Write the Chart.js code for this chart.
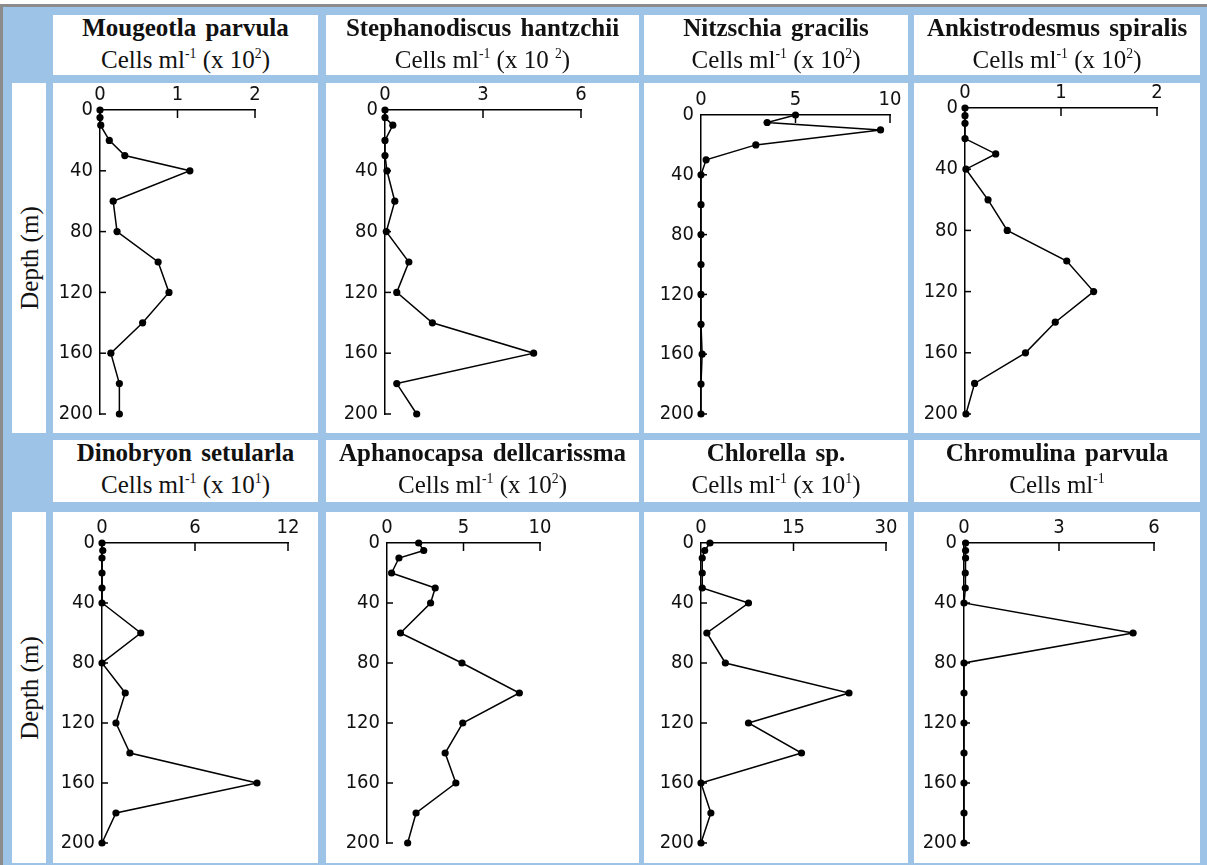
<!DOCTYPE html>
<html>
<head>
<meta charset="utf-8">
<script src="https://cdn.jsdelivr.net/npm/chart.js@4.4.1/dist/chart.umd.min.js"></script>
<style>
html,body{margin:0;padding:0;background:#fff;width:1207px;height:865px;overflow:hidden;position:relative;}
#frame{position:absolute;left:0;top:4px;width:1204px;height:858px;background:#9dc3e6;border-top:3px solid #8c8c8c;border-left:3px solid #8c8c8c;}
.cell{position:absolute;background:#fff;}
.hd{font-family:"Liberation Serif","Times New Roman",serif;color:#111;}
.t1,.t2{position:absolute;left:0;right:0;text-align:center;white-space:nowrap;font-size:25px;line-height:25px;}
.t1{font-weight:bold;top:0;word-spacing:3px;}
.t2{top:32px;}
sup{font-size:0.55em;vertical-align:0.72em;line-height:0;}
.depth span{position:absolute;left:50%;top:50%;transform:translate(-50%,-50%) rotate(-90deg);white-space:nowrap;font-size:25px;line-height:25px;}
canvas{position:absolute;}
</style>
</head>
<body>
<div id="frame"></div>
<div id="page"></div>
<script>
// ---------- data ----------
const depths = [0, 5, 10, 20, 30, 40, 60, 80, 100, 120, 140, 160, 180, 200];
const depthTicks = [0, 40, 80, 120, 160, 200];

const mougeotlaParvula      = [0, 0, 0.01, 0.12, 0.32, 1.16, 0.17, 0.22, 0.75, 0.89, 0.55, 0.14, 0.25, 0.25];
const stephanodiscusHantz   = [0, 0, 0.24, 0, 0, 0.06, 0.30, 0.04, 0.73, 0.36, 1.45, 4.55, 0.36, 0.97];
const nitzschiaGracilis     = [5.0, 3.5, 9.5, 2.9, 0.27, 0, 0, 0, 0, 0, 0, 0.06, 0, 0];
const ankistrodesmusSpir    = [0, 0, 0, 0, 0.32, 0.01, 0.24, 0.44, 1.06, 1.34, 0.94, 0.63, 0.10, 0.01];
const dinobryonSetularla    = [0, 0.05, 0, 0, 0, 0, 2.5, 0, 1.5, 0.9, 1.8, 10.0, 0.9, 0];
const aphanocapsaDell       = [2.07, 2.4, 0.78, 0.3, 3.15, 2.85, 0.88, 4.9, 8.65, 4.95, 3.8, 4.5, 1.9, 1.35];
const chlorellaSp           = [1.45, 0.6, 0.2, 0.2, 0.2, 7.7, 0.95, 3.95, 24.0, 7.7, 16.3, 0, 1.6, 0];
const chromulinaParvula     = [0.05, 0.05, 0.05, 0.04, 0.04, 0, 5.34, 0, 0, 0, 0, 0, 0, 0];

const ticksMougeotla   = [0, 1, 2];
const ticksStephano    = [0, 3, 6];
const ticksNitzschia   = [0, 5, 10];
const ticksAnkistro    = [0, 1, 2];
const ticksDinobryon   = [0, 6, 12];
const ticksAphanocapsa = [0, 5, 10];
const ticksChlorella   = [0, 15, 30];
const ticksChromulina  = [0, 3, 6];

const speciesNames = ["Mougeotla parvula", "Stephanodiscus hantzchii", "Nitzschia gracilis", "Ankistrodesmus spiralis",
                      "Dinobryon setularla", "Aphanocapsa dellcarissma", "Chlorella sp.", "Chromulina parvula"];
const unitLabels = ["Cells ml<sup>-1</sup> (x 10<sup>2</sup>)", "Cells ml<sup>-1</sup> (x 10 <sup>2</sup>)",
                    "Cells ml<sup>-1</sup> (x 10<sup>2</sup>)", "Cells ml<sup>-1</sup> (x 10<sup>2</sup>)",
                    "Cells ml<sup>-1</sup> (x 10<sup>1</sup>)", "Cells ml<sup>-1</sup> (x 10<sup>2</sup>)",
                    "Cells ml<sup>-1</sup> (x 10<sup>1</sup>)", "Cells ml<sup>-1</sup>"];
const depthLabel = "Depth (m)";

const seriesList = [mougeotlaParvula, stephanodiscusHantz, nitzschiaGracilis, ankistrodesmusSpir,
                    dinobryonSetularla, aphanocapsaDell, chlorellaSp, chromulinaParvula];
const tickList = [ticksMougeotla, ticksStephano, ticksNitzschia, ticksAnkistro,
                  ticksDinobryon, ticksAphanocapsa, ticksChlorella, ticksChromulina];

// ---------- layout ----------
const cols = [[53, 318], [326, 639], [644, 908], [914, 1200]];
const headRows = [[15, 75], [440, 502]];
const chartRows = [[83, 433], [512, 863]];
const depthCol = [12, 46];
// plot area per panel: [xLeft, xRight, yTop, yBottom]
const plotBoxes = [
  [100, 255, 110, 416], [385, 581, 110, 416], [701, 890, 115, 417], [965, 1157, 108, 417],
  [102, 288, 543, 843], [387, 540, 543, 843], [701, 886, 543, 843], [964, 1154, 543, 843]
];
const Y_AXIS_W = 46, X_AXIS_H = 30, OX = 10, OY = 25;

const page = document.getElementById('page');
function box(cls, l, t, w, h) {
  const d = document.createElement('div');
  d.className = cls;
  d.style.left = l + 'px'; d.style.top = t + 'px'; d.style.width = w + 'px'; d.style.height = h + 'px';
  page.appendChild(d);
  return d;
}

chartRows.forEach(r => {
  const d = box('cell hd depth', depthCol[0], r[0], depthCol[1] - depthCol[0], r[1] - r[0]);
  d.innerHTML = '<span>' + depthLabel + '</span>';
});

const inwardTicks = {
  id: 'inwardTicks',
  afterDatasetsDraw(chart) {
    const {ctx, chartArea: a, scales: {x, y}} = chart;
    ctx.save();
    ctx.strokeStyle = '#000';
    ctx.lineWidth = 1.5;
    x.ticks.forEach(t => {
      if (t.value === 0) return;
      const px = x.getPixelForValue(t.value);
      ctx.beginPath(); ctx.moveTo(px, a.top); ctx.lineTo(px, a.top + 8); ctx.stroke();
    });
    y.ticks.forEach(t => {
      if (t.value === 0) return;
      const py = y.getPixelForValue(t.value);
      ctx.beginPath(); ctx.moveTo(a.left, py); ctx.lineTo(a.left + 6, py); ctx.stroke();
    });
    ctx.restore();
  }
};

const tickFont = {family: "'DejaVu Sans Condensed', 'DejaVu Sans', sans-serif", size: 20};

for (let i = 0; i < 8; i++) {
  const row = Math.floor(i / 4), col = i % 4;
  const [cl, cr] = cols[col];
  const [ht, hb] = headRows[row];
  const hdr = box('cell hd', cl, ht, cr - cl, hb - ht);
  hdr.innerHTML = '<div class="t1">' + speciesNames[i] + '</div><div class="t2">' + unitLabels[i] + '</div>';

  const [rt, rb] = chartRows[row];
  const cell = box('cell', cl, rt, cr - cl, rb - rt);
  const cv = document.createElement('canvas');
  const cw = cr - cl + OX, ch = rb - rt + OY;
  cv.width = cw; cv.height = ch;
  cv.style.left = (-OX) + 'px'; cv.style.top = (-OY) + 'px';
  cell.appendChild(cv);

  const [px0, px1, py0, py1] = plotBoxes[i];
  const ox = cl - OX, oy = rt - OY;
  const xt = tickList[i];
  const vals = seriesList[i];
  new Chart(cv, {
    type: 'scatter',
    data: {
      datasets: [{
        data: depths.map((d, k) => ({x: vals[k], y: d})),
        showLine: true,
        borderColor: '#000',
        borderWidth: 1.5,
        backgroundColor: '#000',
        pointRadius: 3.6,
        pointBorderWidth: 0,
        pointStyle: 'circle',
        clip: false
      }]
    },
    options: {
      responsive: false,
      animation: false,
      events: [],
      layout: {padding: {left: px0 - ox - Y_AXIS_W, top: py0 - oy - X_AXIS_H, right: cr - px1, bottom: rb - py1}},
      plugins: {legend: {display: false}, tooltip: {enabled: false}},
      scales: {
        x: {
          type: 'linear', position: 'top', min: 0, max: xt[xt.length - 1],
          afterBuildTicks: s => { s.ticks = xt.map(v => ({value: v})); },
          afterFit: s => { s.height = X_AXIS_H; },
          grid: {drawOnChartArea: false, drawTicks: false},
          border: {display: true, color: '#000', width: 1.5},
          ticks: {color: '#111', font: tickFont, padding: 3, maxRotation: 0}
        },
        y: {
          type: 'linear', position: 'left', min: 0, max: 200, reverse: true,
          afterBuildTicks: s => { s.ticks = depthTicks.map(v => ({value: v})); },
          afterFit: s => { s.width = Y_AXIS_W; },
          grid: {drawOnChartArea: false, drawTicks: false},
          border: {display: true, color: '#000', width: 1.5},
          ticks: {color: '#111', font: tickFont, padding: 7}
        }
      }
    },
    plugins: [inwardTicks]
  });
}
</script>
</body>
</html>
